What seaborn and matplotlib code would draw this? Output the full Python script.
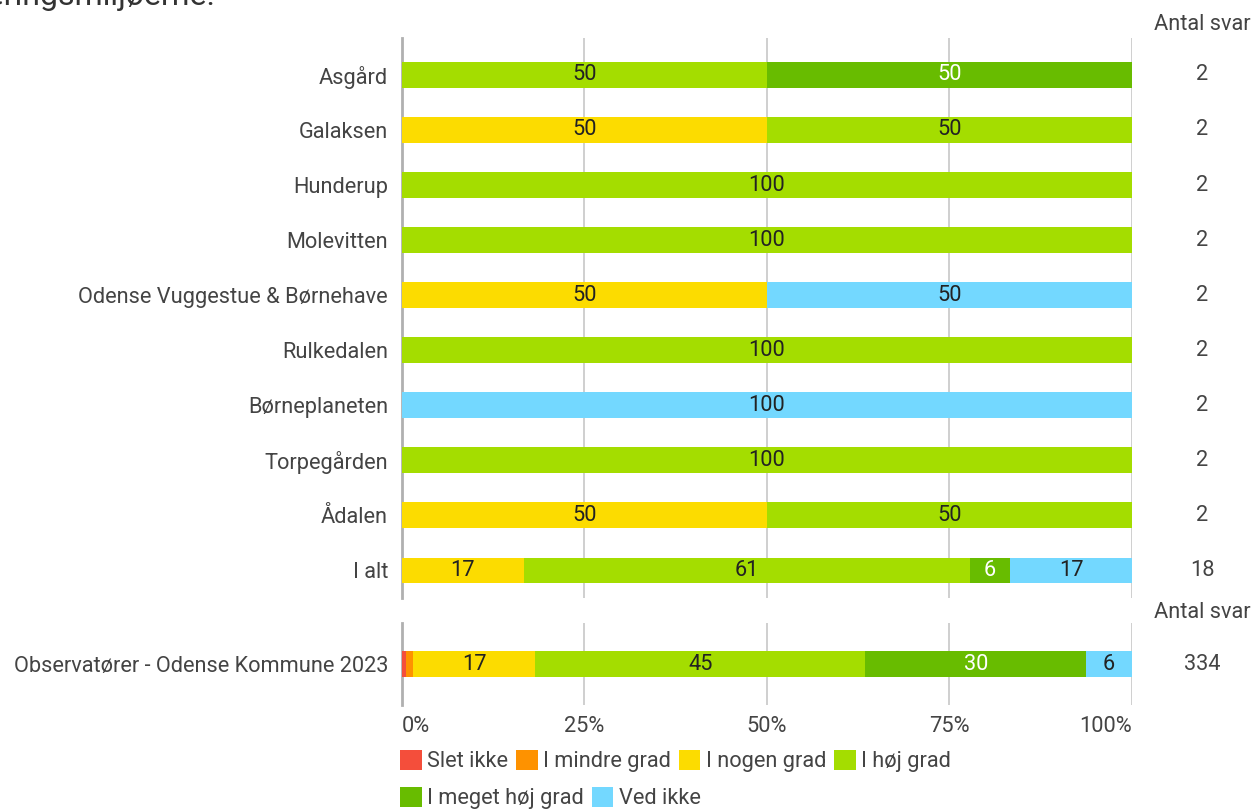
import numpy as np
import pandas as pd
import seaborn as sns
import matplotlib.pyplot as plt
from matplotlib.patches import Patch
from matplotlib.transforms import blended_transform_factory

sns.set_theme(style='white')
plt.rcParams['font.family'] = ['Roboto', 'DejaVu Sans']

# answer categories and their colours
categories = ['Slet ikke', 'I mindre grad', 'I nogen grad', 'I høj grad', 'I meget høj grad', 'Ved ikke']
colors = ['#F44E3B', '#FE9200', '#FCDC00', '#A4DD00', '#68BC00', '#73D8FF']

# institutions (number of answers per category)
sites = ['Asgård', 'Galaksen', 'Hunderup', 'Molevitten', 'Odense Vuggestue & Børnehave',
         'Rulkedalen', 'Børneplaneten', 'Torpegården', 'Ådalen', 'I alt']
slet_ikke = [0, 0, 0, 0, 0, 0, 0, 0, 0, 0]
mindre_grad = [0, 0, 0, 0, 0, 0, 0, 0, 0, 0]
nogen_grad = [0, 1, 0, 0, 1, 0, 0, 0, 1, 3]
hoej_grad = [1, 1, 2, 2, 0, 2, 0, 2, 1, 11]
meget_hoej_grad = [1, 0, 0, 0, 0, 0, 0, 0, 0, 1]
ved_ikke = [0, 0, 0, 0, 1, 0, 2, 0, 0, 3]
antal_svar = [2, 2, 2, 2, 2, 2, 2, 2, 2, 18]

# comparison row
obs_name = ['Observatører - Odense Kommune 2023']
obs_counts = [2, 3, 56, 151, 101, 21]
obs_antal = [334]

pct_ticks = [0, 25, 50, 75, 100]
pct_labels = ['0%', '25%', '50%', '75%', '100%']

text_col = '#444444'
fs = 15.7


def draw_stack(ax, names, counts, totals):
    counts = np.array(counts, dtype=float)
    pct = counts / counts.sum(axis=1, keepdims=True) * 100
    cum = pct.cumsum(axis=1)
    # draw cumulative bars from the last category backwards so they overlap into a stack
    for k in reversed(range(len(categories))):
        mask = counts[:, k] > 0
        if not mask.any():
            continue
        d = pd.DataFrame({'name': np.array(names)[mask], 'cum': cum[mask, k]})
        sns.barplot(data=d, x='cum', y='name', order=names, orient='h',
                    color=colors[k], saturation=1, width=0.47, linewidth=0,
                    errorbar=None, ax=ax)
    for i in range(len(names)):
        for k in range(len(categories)):
            if pct[i, k] >= 4:
                ax.text(cum[i, k] - pct[i, k] / 2, i, f'{pct[i, k]:.0f}',
                        ha='center', va='center', fontsize=fs,
                        color='white' if k == 4 else '#222222')
    trans = blended_transform_factory(ax.transAxes, ax.transData)
    for i, n in enumerate(totals):
        ax.text(1.096, i, str(n), transform=trans, ha='center', va='center',
                fontsize=fs, color=text_col)

    ax.set_xlim(0, 100)
    ax.set_xticks(pct_ticks)
    ax.xaxis.grid(True, color='#cccccc', linewidth=1.3)
    ax.set_axisbelow(True)
    sns.despine(ax=ax, top=True, right=True, bottom=True, left=False)
    ax.spines['left'].set_color('#b0b0b0')
    ax.spines['left'].set_linewidth(2)
    ax.spines['left'].set_zorder(0.6)
    ax.set_xlabel('')
    ax.set_ylabel('')
    ax.tick_params(axis='y', length=0, pad=10, labelsize=fs, labelcolor=text_col)
    ax.tick_params(axis='x', length=0)


fig = plt.figure(figsize=(12.53, 8.10), dpi=100)
ax1 = fig.add_axes([0.3208, 0.2617, 0.5826, 0.6914])
ax2 = fig.add_axes([0.3208, 0.1296, 0.5826, 0.1012])

site_counts = np.column_stack([slet_ikke, mindre_grad, nogen_grad, hoej_grad, meget_hoej_grad, ved_ikke])
draw_stack(ax1, sites, site_counts, antal_svar)
ax1.set_ylim(9.5, -0.67)
ax1.tick_params(axis='x', labelbottom=False)

draw_stack(ax2, obs_name, [obs_counts], obs_antal)
ax2.set_ylim(0.745, -0.745)
ax2.set_xticks(pct_ticks, labels=pct_labels)
ax2.tick_params(axis='x', pad=8, labelsize=fs, labelcolor=text_col)
xl = ax2.get_xticklabels()
xl[0].set_ha('left')
xl[-1].set_ha('right')

# column headers
fig.text(1202 / 1253, 1 - 25 / 810, 'Antal svar', ha='center', va='center', fontsize=fs, color=text_col)
fig.text(1202 / 1253, 1 - 612 / 810, 'Antal svar', ha='center', va='center', fontsize=fs, color=text_col)

# cut-off title fragment at the top edge
fig.text(215 / 1253, 1 - 5 / 810, 'i læringsmiljøerne.', ha='right', va='baseline', fontsize=23, color='#333333')

# legend in two rows
handles = [Patch(facecolor=c, edgecolor='none') for c in colors]
leg_kw = dict(loc='upper left', frameon=False, fontsize=fs, handlelength=1.0, handleheight=1.0,
              handletextpad=0.25, columnspacing=0.35, borderpad=0, borderaxespad=0, labelcolor=text_col)
fig.legend(handles[:4], categories[:4], ncol=4, bbox_to_anchor=(400 / 1253, 1 - 750 / 810), **leg_kw)
fig.legend(handles[4:], categories[4:], ncol=2, bbox_to_anchor=(400 / 1253, 1 - 787 / 810), **leg_kw)

fig.savefig('out.png', dpi=100)
